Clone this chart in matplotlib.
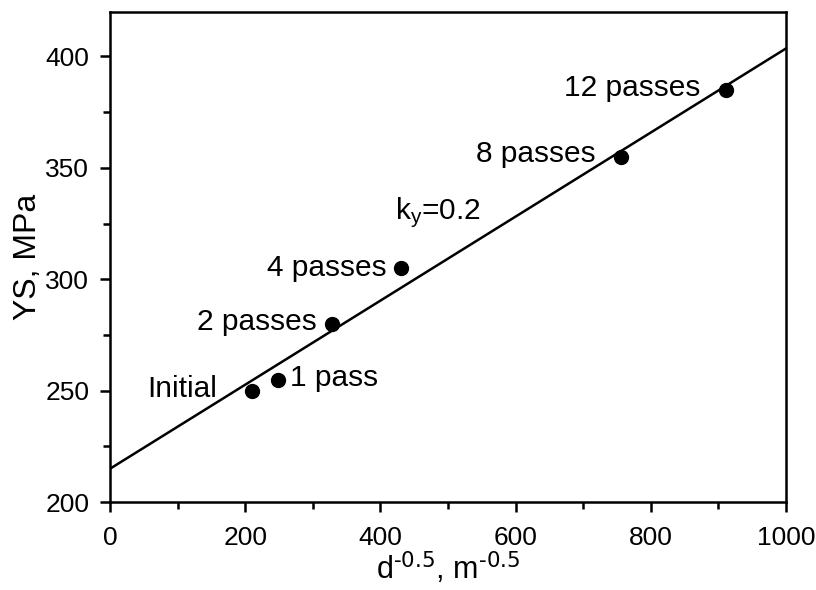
import matplotlib
matplotlib.use("Agg")
from matplotlib import pyplot as plt
from matplotlib.ticker import MultipleLocator

# data
labels = ["Initial", "1 pass", "2 passes", "4 passes", "8 passes", "12 passes"]
d_inv_sqrt = [210, 248, 328, 430, 756, 912]
ys = [250, 255, 280, 305, 355, 385]
# label offsets (points) relative to each marker
label_dx = [-25, 9, -11, -10, -18, -19]
label_dy = [1, 1, 1, 0, 2, 1]
label_ha = ["right", "left", "right", "right", "right", "right"]

fit_x = [0, 1000]
fit_y = [215, 403.5]

plt.rcParams['font.family'] = ['Liberation Sans', 'DejaVu Sans']
plt.rcParams['mathtext.default'] = 'regular'

fig = plt.figure(figsize=(8.16, 5.9), dpi=100)
ax = fig.add_axes([0.135, 0.149, 0.828, 0.831])

ax.plot(fit_x, fit_y, color='black', linewidth=1.8)
ax.plot(d_inv_sqrt, ys, 'o', color='black', markersize=10)

for lab, x, y, dx, dy, ha in zip(labels, d_inv_sqrt, ys, label_dx, label_dy, label_ha):
    ax.annotate(lab, (x, y), xytext=(dx, dy), textcoords='offset points',
                ha=ha, va='center', fontsize=21.5)

ax.text(422, 330, r'k$_{y}$=0.2', fontsize=21.5, va='center', ha='left')

ax.set_xlim(0, 1000)
ax.set_ylim(200, 420)
ax.xaxis.set_major_locator(MultipleLocator(200))
ax.xaxis.set_minor_locator(MultipleLocator(100))
ax.yaxis.set_major_locator(MultipleLocator(50))
ax.yaxis.set_minor_locator(MultipleLocator(25))

ax.tick_params(which='both', direction='out', top=False, right=False, width=1.8)
ax.tick_params(which='major', length=7, labelsize=19)
ax.tick_params(axis='x', which='major', pad=10)
ax.tick_params(axis='y', which='major', pad=8)
ax.tick_params(which='minor', length=5)
for s in ax.spines.values():
    s.set_linewidth(1.8)

ax.set_xlabel(r'd$^{\text{-0.5}}$, m$^{\text{-0.5}}$', fontsize=22, labelpad=0)
ax.set_ylabel('YS, MPa', fontsize=23, labelpad=2)

plt.savefig('out.png', dpi=100)
plt.close()
